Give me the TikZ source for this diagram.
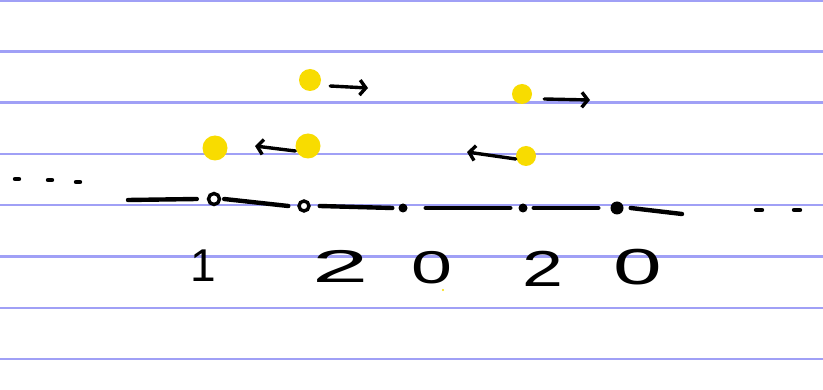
\documentclass[tikz,border=0pt]{standalone}
\usepackage{fontspec}
\setmainfont{Liberation Sans}
\usetikzlibrary{arrows.meta}
\definecolor{rule}{HTML}{A0A0F6}
\definecolor{blob}{HTML}{F8DC00}
\tikzset{
  ink/.style={line width=4.4pt, line cap=round, black},
  ruleline/.style={line width=2.2pt, rule},
  hole/.style={circle, draw=black, line width=3.4pt, fill=white, minimum size=11pt, inner sep=0pt},
  fdot/.style={circle, fill=black, minimum size=9pt, inner sep=0pt},
  ball/.style={circle, fill=blob, minimum size=#1, inner sep=0pt},
  ball/.default=22pt,
  mover/.style={ink, line width=3.4pt, -{Straight Barb[length=6pt,width=15pt,line width=3.4pt]}},
  digit/.style={font=\fontsize{46}{46}\selectfont, inner sep=0pt},
  tick/.style={ink, line width=4.4pt}
}
\begin{document}
\begin{tikzpicture}[x=1pt,y=-1pt]
\useasboundingbox (0,0) rectangle (823,390);
\fill[white] (0,0) rectangle (823,390);
% ruled paper
\foreach \yy in {1,51.5,102.5,154,205,256.5,308,359}
  \draw[ruleline] (0,\yy) -- (823,\yy);
% number line
\coordinate (s) at (128,200);
\coordinate (e) at (682,214);
\node[hole] (d1) at (214,199) {};
\node[hole, minimum size=10pt] (d2) at (304,206) {};
\node[fdot] (d3) at (403,208) {};
\node[fdot] (d4) at (523,208) {};
\node[fdot, minimum size=13pt] (d5) at (617,208) {};
\draw[ink] (s) -- ([xshift=-10pt]d1.west);
\draw[ink] ([xshift=3pt]d1.east) -- ([xshift=-9pt]d2.west);
\draw[ink] ([xshift=9pt]d2.east) -- ([xshift=-6pt]d3.west);
\draw[ink] ([xshift=18pt]d3.east) -- ([xshift=-8pt]d4.west);
\draw[ink] ([xshift=6pt]d4.east) -- ([xshift=-12pt]d5.west);
\draw[ink] ([xshift=7pt]d5.east) -- (e);
% ellipsis
\coordinate (l1) at (17,179); \coordinate (l2) at (50,180); \coordinate (l3) at (78,182);
\foreach \c in {l1,l2,l3} \draw[tick] ([xshift=-2pt]\c) -- ([xshift=2pt]\c);
\coordinate (r1) at (759,210); \coordinate (r2) at (797,210);
\foreach \c in {r1,r2} \draw[tick] ([xshift=-3pt]\c) -- ([xshift=3pt]\c);
% digits
\node[digit] (n1) at (203,266) {1};
\node[digit] (n2) at (341,266) {\scalebox{2.2}[1]{2}};
\node[digit] (n3) at (432,268) {\scalebox{1.6}[1]{0}};
\node[digit] (n4) at (543,269) {\scalebox{1.6}[1.1]{2}};
\node[digit] (n5) at (638,267) {\scalebox{1.9}[1.1]{0}};
% balls and moves
\node[ball] (b1) at (310,80) {};
\coordinate (t1) at (368,88);
\draw[mover] ([xshift=9pt,yshift=-6pt]b1.east) -- (t1);
\node[ball=20pt] (b2) at (522,94) {};
\coordinate (t2) at (590,100);
\draw[mover] ([xshift=12pt,yshift=-5pt]b2.east) -- (t2);
\node[ball=25pt] (b3) at (215,148) {};
\node[ball=25pt] (b4) at (308,146) {};
\coordinate (t3) at (255,146);
\draw[mover] ([yshift=-5pt]b4.west) -- (t3);
\node[ball=20pt] (b5) at (526,156) {};
\coordinate (t4) at (467,152);
\draw[mover] ([yshift=-3pt]b5.west) -- (t4);
\fill[blob] (443,290) circle (1.2pt);
\end{tikzpicture}
\end{document}
